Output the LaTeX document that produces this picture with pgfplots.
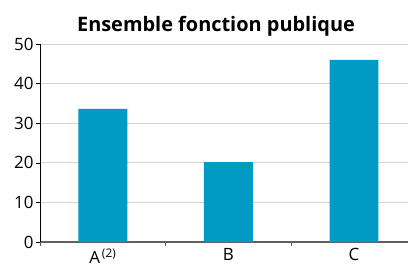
\documentclass[border=0pt]{standalone}
\usepackage{pgfplots}
\pgfplotsset{compat=1.18}
\usepackage{fontspec}
\setmainfont{Open Sans}
\definecolor{barc}{HTML}{009BC4}
\begin{document}
\begin{tikzpicture}
\useasboundingbox (-40bp,-24bp) rectangle (368bp,242bp);
\begin{axis}[
  at={(0,0)}, anchor=south west,
  scale only axis, width=368bp, height=198bp,
  xmin=-0.5, xmax=2.43, ymin=0, ymax=50,
  ytick={0,10,...,50},
  xtick={-0.5,0.5,1.5},
  xticklabels={},
  extra x ticks={0,1,2},
  extra x tick labels={A\textsuperscript{\,(2)},B,C},
  extra x tick style={major tick length=0pt, grid=none},
  xtick style={draw=gray!70!black, line width=0.8pt},
  axis x line*=bottom, axis y line*=left,
  x axis line style={draw=gray!75!black, line width=1.2pt, -},
  y axis line style={draw=black, line width=0.8pt, -},
  ytick style={draw=black, line width=0.6pt},
  major tick length=4bp,
  tick align=outside,
  ymajorgrids, grid style={draw=gray!35, line width=0.8pt},
  tick label style={font=\fontsize{17}{19}\selectfont},
  /pgf/number format/assume math mode=true,
  yticklabel style={xshift=1bp},
  xticklabel style={yshift=-3bp},
  title={\bfseries Ensemble fonction publique},
  title style={font=\fontsize{20}{23}\selectfont, yshift=-2bp, xshift=-8bp},
]
\addplot[ybar, bar width=0.39, fill=barc, draw=none] coordinates {(0,33.6) (1,20.2) (2,46.0)};
\end{axis}
\end{tikzpicture}
\end{document}
